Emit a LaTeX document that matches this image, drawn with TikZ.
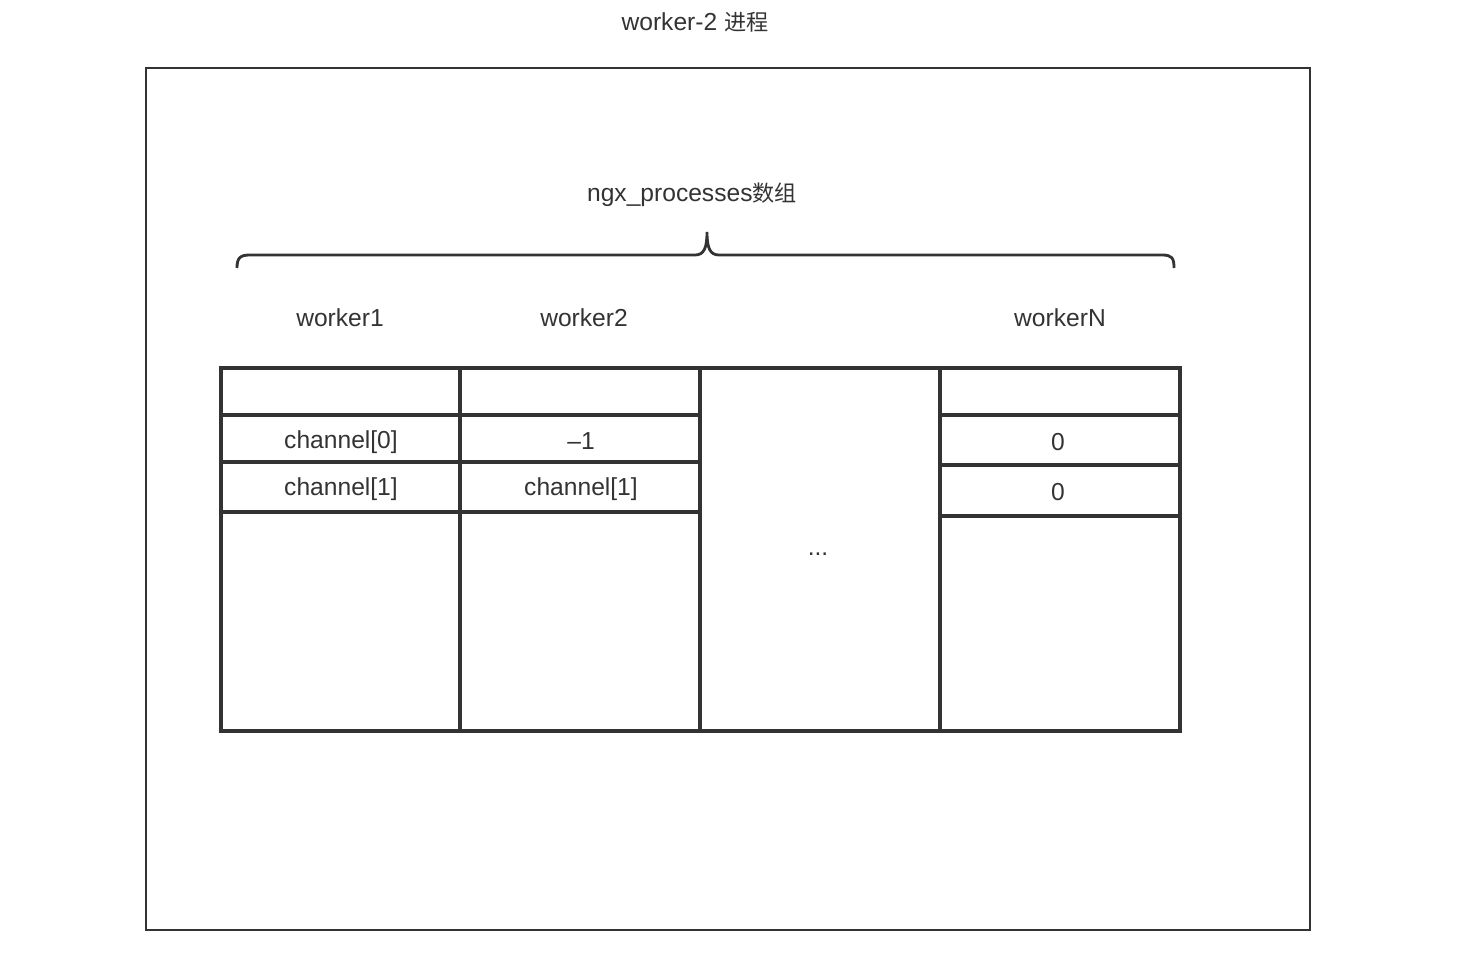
\documentclass[tikz,border=0pt]{standalone}
\usepackage{fontspec}
\setmainfont{Liberation Sans}
\newfontfamily\zhfont[Scale=0.9]{Noto Sans CJK SC}
\usetikzlibrary{positioning}
\definecolor{ink}{HTML}{333333}

\begin{document}
\begin{tikzpicture}[x=0.02cm,y=-0.02cm,
  every node/.style={font=\fontsize{14}{17}\selectfont,text=ink},
  frame/.style={draw=ink,line width=1.6pt},
  cell/.style={draw=ink,line width=1.9pt}]
\useasboundingbox (0,0) rectangle (1468,962);
\node (title) at (695,22) {worker-2 {\zhfont 进程}};
\draw[frame] (146,68) rectangle (1310,930);
\node (arr) at (692,195) {ngx\_processes{\zhfont 数组}};
% brace over the slots
\draw[frame] (237,268) .. controls (237,258) and (240,255) .. (250,255) -- (695,255)
  .. controls (704,255) and (707,248) .. (707,232)
  .. controls (707,248) and (710,255) .. (719,255) -- (1162,255)
  .. controls (1172,255) and (1174,258) .. (1174,268);
\node (w1) at (340,318) {worker1};
\node (w2) at (584,318) {worker2};
\node (wn) at (1060,318) {workerN};
% table
\draw[cell] (221,368) rectangle (1180,731);
\foreach \x in {460,700,940} \draw[cell] (\x,368) -- (\x,731);
\foreach \y in {415,462,512} \draw[cell] (221,\y) -- (700,\y);
\foreach \y in {415,465,516} \draw[cell] (940,\y) -- (1180,\y);
\node (c10) at (341,442) {channel[0]};
\node (c11) at (341,489) {channel[1]};
\node (c20) at (581,441) {--1};
\node (c21) at (581,489) {channel[1]};
\node (dots) at (818,554) {...};
\node (cn0) at (1058,442) {0};
\node (cn1) at (1058,492) {0};
\end{tikzpicture}
\end{document}
